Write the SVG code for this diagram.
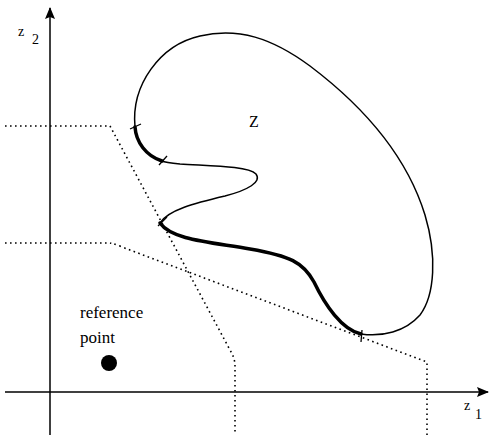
<svg xmlns="http://www.w3.org/2000/svg" width="489" height="435" viewBox="0 0 489 435">
<style>
.ax{stroke:#000;stroke-width:1.5;fill:none}
.dot{stroke:#000;stroke-width:1.6;fill:none;stroke-dasharray:1.6 3.4}
.thin{stroke:#000;stroke-width:1.5;fill:none;stroke-linecap:round}
.thick{stroke:#000;stroke-width:3.5;fill:none;stroke-linecap:round}
.tick{stroke:#000;stroke-width:1.3;fill:none}
text{font-family:"Liberation Serif","Times New Roman",serif;fill:#000}
</style>
<defs>
<marker id="arr" viewBox="0 0 12 10" refX="11" refY="5" markerWidth="12" markerHeight="10" markerUnits="userSpaceOnUse" orient="auto">
<path d="M0,0 L12,5 L0,10 L2,5 Z" fill="#000"/>
</marker>
</defs>
<g id="connectors">
<line class="ax" x1="50" y1="435" x2="50" y2="8" marker-end="url(#arr)"/>
<line class="ax" x1="5" y1="392" x2="488" y2="392" marker-end="url(#arr)"/>
<path class="dot" d="M5,126 L110,126 L230,350 Q235,358 235,366 L235,435"/>
<path class="dot" d="M5,243 L110,243 Q115,244 122,247 L427,362 L427,435"/>
</g>
<g id="Z">
<path class="thin" d="M135,127 C131,85 160,45 200,36 C238,27 272,38 310,66 C355,100 405,150 425,215 C437,255 435,295 420,315 C405,332 382,337 361,334"/>
<path class="thick" d="M361,334 C342,330 325,305 314,282 C303,262 290,256 250,249 C210,242 172,240 160,223"/>
<path class="thin" d="M160,223 C168,210 195,203 225,196 C248,190 262,182 256,174 C248,166 210,166 180,164 C170,163 164,162 162,161"/>
<path class="thick" d="M162,161 C146,156 136,142 135,127"/>
<line class="tick" x1="130" y1="129" x2="141" y2="124"/>
<line class="tick" x1="159" y1="165" x2="167" y2="156"/>
<line class="tick" x1="158" y1="226" x2="167" y2="217"/>
<line class="tick" x1="362" y1="330" x2="361" y2="342"/>
<text x="249" y="127" font-size="16">Z</text>
</g>
<g id="axis-labels">
<text x="18" y="36" font-size="14">z</text>
<text x="32" y="44" font-size="14">2</text>
<text x="464" y="410" font-size="14">z</text>
<text x="475" y="419" font-size="14">1</text>
</g>
<g id="reference-point">
<text x="80" y="318" font-size="17">reference</text>
<text x="80" y="343" font-size="17">point</text>
<circle cx="109" cy="363" r="8" fill="#000"/>
</g>
</svg>
